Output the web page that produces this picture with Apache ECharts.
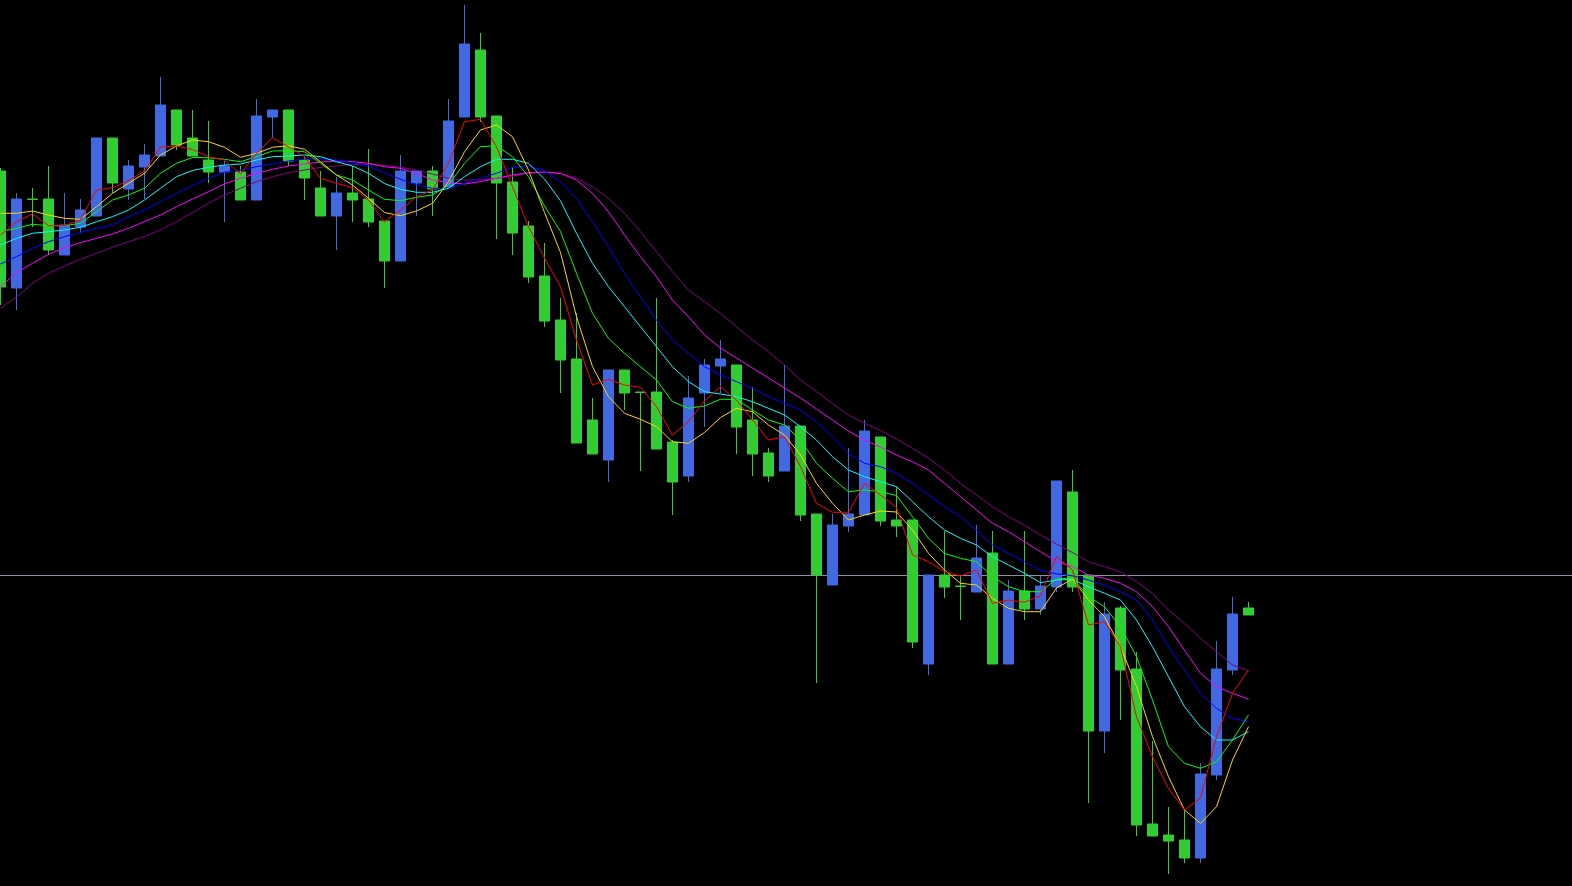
<!DOCTYPE html>
<html>
<head>
<meta charset="utf-8">
<script src="https://cdn.jsdelivr.net/npm/echarts/dist/echarts.min.js"></script>
<style>
html,body{margin:0;padding:0;background:#000;overflow:hidden;}
#chart{width:1572px;height:886px;}
</style>
</head>
<body>
<div id="chart"></div>
<script>
// Candles (price units), index 0..78
const opens = [829,712,801,801,745,773,784,862,811,833,
  844,890,862,840,828,828,800,883,890,840,
  812,784,807,801,779,739,817,829,813,883,
  950,884,818,774,724,680,641,580,540,630,
  608,608,558,524,607,634,635,580,547,529,
  574,486,415,474,485,563,480,480,336,425,
  414,408,447,336,409,391,413,508,425,269,
  392,331,176,165,160,142,225,330,392];
const closes = [713,801,800.5,750,775,790,862,817,834,845,
  895,855,844,828,834,800,884,890,839,822,
  784,807,800,778,739,829,829,811,879,956,
  883,817,767,723,679,640,557,546,630,607,
  607.5,551,518,602,635,641,573,546,524,574,
  485,425,475,486,569,479,474,358,425,413,
  413.5,442,336,409,391,414,519,413,269,386,
  330,175,164,159,142,226,331,386,385];
const lows = [695,690,773,745,745,767,784,807,800,801,
  844,850,844,817,778,800,800,862,834,800,
  784,750,778,773,712,739,784,784,813,883,
  878,761,745,717,673,607,557,546,518,590,
  529,551,485,518,573,607,546,524,518,529,
  479,317,415,468,485,474,463,352,325,402,
  380,408,336,336,380,385,408,408,197,247,
  280,164,164,126,137,137,220,325,385];
const highs = [832,807,812,834,807,801,862,862,840,856,
  923,890,890,879,839,834,901,890,890,843,
  829,823,834,851,779,845,829,834,901,995,
  967,884,833,779,757,702,687,602,630,630,
  608,702,560,624,641,660,635,613,552,635,
  574,486,486,552,580,563,513,480,425,469,
  424,475,469,420,469,424,519,530,425,398,
  394,348,259,193,190,237,359,403,398];

// Moving average lines
const maRed = [765,778.3,786,774.3,774.3,780,810,812.3,819.3,829,
  853,854,850.5,843.3,840,826,846.7,862.3,853.3,843.3,
  821.7,816.7,812.3,800,778,790,803.3,810,836.7,878.3,
  880.7,853.3,813.3,773.3,742,713.3,660,615,620.7,615,
  612.7,593.3,565,578.3,599,613.3,600,580,560,563.3,
  533.3,496.7,487.7,487.7,516.7,505,492.5,445,438.3,428.3,
  424,430,396.7,400,397.7,404.3,443.5,430,375,378.3,
  353.3,283.3,243.3,211.7,190,201.7,263.3,306.7,330];
const maYellow = [786.7,786.7,789,785,781.7,780.7,793.3,806.7,816.7,826.7,
  845,854,860,858.3,852.7,842.7,846.7,852.7,854.3,850.7,
  838.3,825,815,801.7,787.5,784.3,789,796.7,818.3,848.3,
  870,875,863.3,830,787.5,747.5,683.3,633.3,603.3,586.7,
  580.7,573.3,558.3,556.7,567.5,582.5,591.7,588.3,575,565,
  545,516.7,496.7,480,485,489,488,470,446.7,430,
  416.7,415,401.7,391.7,388.3,388.3,412,421,400,383.3,
  353.3,313.3,263.3,223.3,190,176.7,193.3,240,273.3];
const maGreen = [768.3,771.7,775.7,774.3,774.3,776.7,788.3,800,805,811.7,
  826.7,836.7,842.5,842.3,840.7,838.3,843.3,849,849.3,848.3,
  836.7,825,820,810,800.7,799.3,802.7,805,815,836.7,
  853.3,854.3,843.3,823.3,794,768.5,726.7,686.7,661.7,646.7,
  633.3,620,598.3,591.7,594,600.7,600.7,590,580,575,
  560,536.7,521.7,508.3,510,508.3,504.5,483.3,461.7,446.7,
  441.7,438.3,423.3,413.3,408.3,408.3,421,422,403.3,393.3,
  373.3,343.3,300,253.3,236.7,231.7,238.3,260,285];
const maCyan = [755,761.7,766.7,768.3,770,772.7,778.3,783.3,790,800,
  811.7,823.3,829.5,832.7,835,836,840,843.3,844,845,
  843.3,838.3,834,826.7,816.5,810.7,807.7,807.7,811.7,823.3,
  833.3,840.7,840.7,836.7,821,799.2,766.7,736.7,713.3,693.3,
  673.3,653.3,633.3,618.3,608.3,606,603.3,598.3,591.7,585,
  573.3,560,543.3,530,523.3,518.3,513.3,498.3,483.3,470,
  461.7,455,443.3,435,426.7,417.3,420,420.5,413.3,406.7,
  400,380,353.3,323.3,293.3,273.3,260,260,268.3];
const maBlue = [736,743.3,751.7,758.3,763.3,767.7,771.7,775,783.3,790,
  798.3,806.7,814.5,821.7,827.7,830,833.3,836,839,841,
  841.3,840,837.3,834,827,820.7,815,811.7,811.7,816.7,
  821.7,826.7,832.7,834,829.2,818.3,801.7,778.3,753.3,726.7,
  703.3,680,660,646.7,633.3,625,618.3,611.7,603.3,596.7,
  590,578.3,563.3,546.7,536.7,533.3,526.7,516.7,505,493.3,
  483.3,470,455,446.7,438.3,430,426.2,424.2,420,415,
  408.3,400,380,353.3,330,306.7,291.7,281.7,278.3];
const maMagenta = [713.3,727.3,736.7,745.7,752.3,757.3,761.7,766,771.7,778.3,
  785,793.3,801,808.3,816,821.7,826.7,830.7,834,836,
  838,839,838.3,836.7,833.3,831.7,826.7,820,817.3,816,
  818.3,821.7,825,827.3,828,826.7,820,806.7,788.3,765,
  743.3,723.3,700,683.3,665,652,642,632,622,612,
  602,591,580,569,560,553,545,538.3,530,516.7,
  503.3,490,476.7,468.3,458.3,448.3,438.5,433.5,425,421.7,
  416.7,408.3,393.3,373.3,350,326.7,313.3,306.7,300.7];
const maPurple = [691.7,702.7,716.7,726.7,734,740.7,746.7,752.7,758.3,763.3,
  770,778.3,787.3,796.7,805,811.7,818.3,823.3,827.3,830,
  832.7,834,835.7,835.7,834.5,832.7,830,826,821.7,820,
  820,821.7,824,826.7,828,826.5,821.7,813.3,801.7,786.7,
  768.3,748.3,728.3,710,698.3,686.7,673.3,660,648.3,635,
  620,608.3,596.7,585,576.7,569.5,561,551.7,541.7,530,
  516.7,505,493.3,483.3,475,465,456,447.5,438.3,433.3,
  428.3,418.3,406.7,390,376.7,361.7,348.3,335,329.3];

const levelPrice = 425;

const chart = echarts.init(document.getElementById('chart'), null, {renderer: 'canvas'});

const candleData = opens.map((o, i) => [i, o, closes[i], lows[i], highs[i]]);

function maSeries(name, arr, color, z) {
  return {
    name: name,
    type: 'line',
    data: arr.map((v, i) => [i, v]),
    symbol: 'none',
    showSymbol: false,
    smooth: false,
    silent: true,
    z: z,
    lineStyle: {color: color, width: 1},
    emphasis: {disabled: true}
  };
}

const option = {
  backgroundColor: '#000000',
  animation: false,
  grid: {left: 0, right: 0, top: 0, bottom: 0, containLabel: false},
  xAxis: {
    type: 'value',
    min: -0.03125,
    max: 98.21875,
    show: false,
    splitLine: {show: false}
  },
  yAxis: {
    type: 'value',
    min: 114,
    max: 1000,
    show: false,
    splitLine: {show: false}
  },
  series: [
    {
      name: 'price',
      type: 'candlestick',
      data: candleData,
      encode: {x: 0, y: [1, 2, 3, 4]},
      barWidth: 10,
      z: 2,
      silent: true,
      itemStyle: {
        color: '#4169E1',
        color0: '#32CD32',
        borderColor: '#4169E1',
        borderColor0: '#32CD32',
        borderWidth: 1
      },
      markLine: {
        silent: true,
        z: 1,
        symbol: ['none', 'none'],
        label: {show: false},
        lineStyle: {color: '#8691a3', width: 1, type: 'solid'},
        data: [{yAxis: levelPrice}]
      }
    },
    maSeries('MA7', maPurple, '#800080', 3),
    maSeries('MA6', maMagenta, '#FF00FF', 4),
    maSeries('MA5', maBlue, '#0000FF', 5),
    maSeries('MA4', maCyan, '#00FFFF', 6),
    maSeries('MA3', maGreen, '#00FF00', 7),
    maSeries('MA2', maYellow, '#FFD700', 8),
    maSeries('MA1', maRed, '#FF0000', 9)
  ]
};
chart.setOption(option);
</script>
</body>
</html>
